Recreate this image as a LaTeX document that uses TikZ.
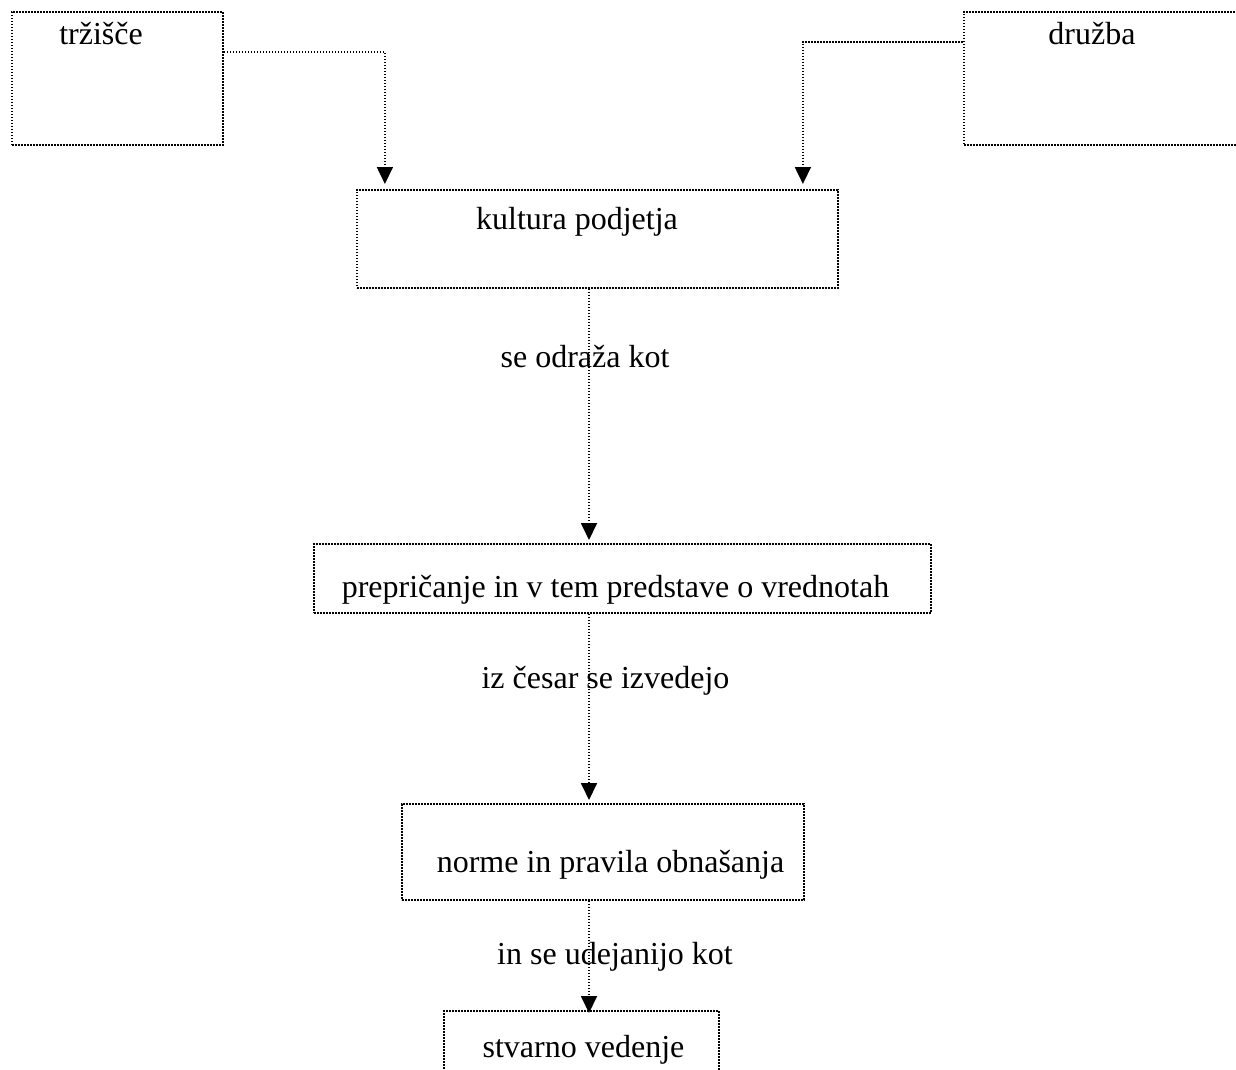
\documentclass[tikz,border=0pt]{standalone}
\usepackage{fontspec}
\setmainfont{Liberation Serif}
\usetikzlibrary{arrows.meta}

\tikzset{
  dots/.style={line width=1.8pt, dash pattern=on 1.6pt off 1.4pt},
  frame/.style={dots, draw=black, rectangle, inner sep=0pt, anchor=north west},
  txt/.style={anchor=base, inner sep=0pt, font=\fontsize{32}{38}\selectfont},
  conn/.style={dots, draw=black, -{Triangle[length=17pt, width=16pt]}},
}

\begin{document}
\begin{tikzpicture}[x=1pt, y=-1pt]
  \useasboundingbox (0,0) rectangle (1236,1070);
  \clip (0,0) rectangle (1236,1070);

  % boxes
  \node[frame, minimum width=211pt, minimum height=133pt] (trz) at (11,11) {};
  \node[frame, minimum width=300pt, minimum height=133pt] (dru) at (963,11) {};
  \node[frame, minimum width=481pt, minimum height=98pt]  (kul) at (356,189) {};
  \node[frame, minimum width=617pt, minimum height=69pt]  (pre) at (313,543) {};
  \node[frame, minimum width=402pt, minimum height=96pt]  (nor) at (401,803) {};
  \node[frame, minimum width=275pt, minimum height=90pt]  (stv) at (443,1010) {};

  % box texts
  \node[txt] (trzT) at (101,45)   {tržišče};
  \node[txt] (druT) at (1092,45)  {družba};
  \node[txt] (kulT) at (577,229)  {kultura podjetja};
  \node[txt] (preT) at (615.5,597) {prepričanje in v tem predstave o vrednotah};
  \node[txt] (norT) at (610.5,872) {norme in pravila obnašanja};
  \node[txt] (stvT) at (583.5,1057) {stvarno vedenje};

  % vertical spine of the chain
  \coordinate (spine) at (589,0);

  % connectors from the two upper boxes
  \draw[conn, shorten >=5pt] ([yshift=-41pt]trz.north east) -| ([xshift=-212.5pt]kul.north);
  \draw[conn, shorten >=5pt] ([yshift=-31pt]dru.north west) -| ([xshift=205.5pt]kul.north);

  % chain down the middle
  \draw[conn, shorten >=3pt] (kul.south -| spine) -- (pre.north -| spine);
  \draw[conn, shorten >=3pt] (pre.south -| spine) -- (nor.north -| spine);
  \draw[conn, shorten >=-3pt] (nor.south -| spine) -- (stv.north -| spine);

  % connector labels
  \node[txt] (l1) at (585,367)   {se odraža kot};
  \node[txt] (l2) at (605.5,688) {iz česar se izvedejo};
  \node[txt] (l3) at (615,964)   {in se udejanijo kot};
\end{tikzpicture}
\end{document}
